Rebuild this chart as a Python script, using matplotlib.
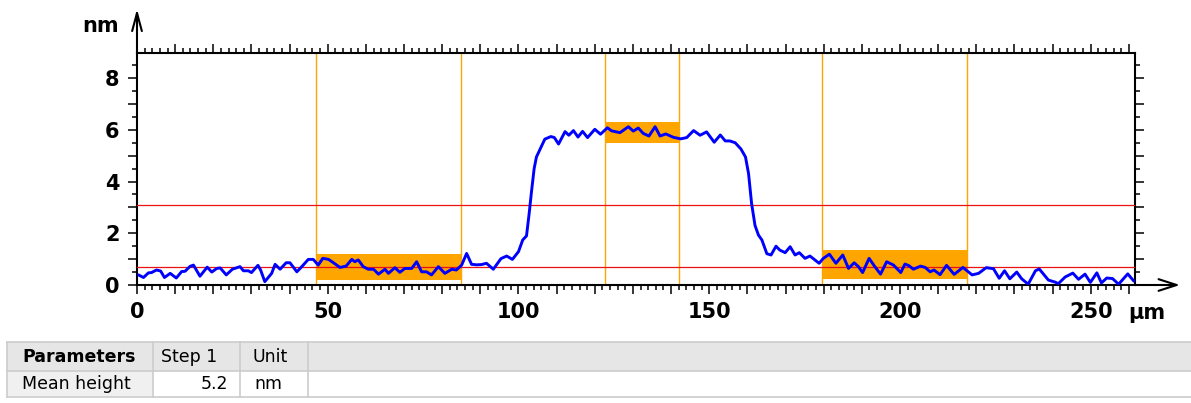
import matplotlib
matplotlib.use('Agg')
import matplotlib.pyplot as plt
from matplotlib.patches import Rectangle
from matplotlib.ticker import MultipleLocator

# ---------------- data ----------------
x_um = [0.4, 1.7, 3.0, 3.8, 5.1, 6.2, 7.2, 8.7, 10.3, 11.7, 12.6, 13.9, 14.8, 16.5, 18.4,
        19.6, 20.9, 21.8, 23.4, 25.0, 27.0, 27.9, 29.2, 30.0, 31.7, 32.4, 33.5, 35.3, 36.2,
        37.5, 39.1, 40.1, 41.9, 43.2, 44.9, 46.2, 47.5, 48.7, 50.2, 51.5, 53.2, 54.8, 56.3,
        57.1, 58.0, 59.3, 60.6, 62.0, 63.3, 65.0, 65.9, 67.6, 68.9, 70.2, 72.0, 73.3, 74.6,
        75.9, 77.2, 79.0, 80.7, 82.5, 83.7, 85.1, 86.4, 87.7, 89.0, 90.3, 91.6, 93.4, 95.4,
        96.9, 98.4, 100.0, 101.1, 102.1, 102.8, 103.4, 104.1, 104.7, 105.6, 106.9, 108.5,
        109.4, 110.5, 112.2, 113.2, 114.4, 115.6, 116.8, 118.1, 120.0, 121.5, 123.3, 124.4,
        126.6, 128.8, 130.1, 131.4, 132.7, 134.2, 135.8, 137.1, 138.6, 140.6, 142.5, 144.1,
        145.9, 147.6, 149.3, 151.3, 152.9, 154.2, 155.4, 156.8, 158.3, 159.5, 160.3, 161.1,
        162.0, 162.9, 163.8, 165.1, 166.2, 167.5, 168.5, 169.9, 171.2, 172.5, 173.6, 175.1,
        176.4, 177.7, 178.8, 179.9, 181.5, 183.2, 185.0, 186.5, 188.0, 189.1, 190.2, 191.9,
        193.4, 194.9, 196.5, 198.3, 200.2, 201.3, 202.3, 203.5, 205.4, 206.6, 207.9, 208.9,
        210.5, 212.2, 214.2, 216.5, 218.9, 220.6, 222.6, 224.5, 226.0, 227.4, 228.8, 230.6,
        231.9, 233.6, 235.5, 236.5, 238.9, 240.7, 241.5, 243.3, 245.3, 246.8, 248.5, 249.9,
        251.6, 252.8, 254.2, 255.7, 257.3, 259.7, 261.3]
height_nm = [0.39, 0.29, 0.47, 0.48, 0.58, 0.54, 0.29, 0.45, 0.27, 0.52, 0.53, 0.72, 0.77, 0.34, 0.69,
             0.50, 0.64, 0.66, 0.39, 0.61, 0.71, 0.55, 0.55, 0.48, 0.76, 0.58, 0.13, 0.45, 0.80,
             0.61, 0.86, 0.86, 0.51, 0.71, 0.99, 0.99, 0.77, 1.03, 0.99, 0.86, 0.68, 0.73, 0.99,
             0.90, 0.97, 0.71, 0.61, 0.61, 0.42, 0.61, 0.45, 0.67, 0.49, 0.64, 0.64, 0.90, 0.51,
             0.51, 0.39, 0.71, 0.45, 0.61, 0.58, 0.77, 1.22, 0.80, 0.78, 0.79, 0.84, 0.61, 1.02,
             1.12, 0.99, 1.29, 1.74, 1.90, 2.77, 3.60, 4.50, 4.95, 5.23, 5.64, 5.74,
             5.70, 5.45, 5.93, 5.79, 5.97, 5.72, 5.94, 5.70, 6.02, 5.83, 6.08, 5.96,
             5.89, 6.12, 5.95, 6.07, 5.86, 5.76, 6.12, 5.76, 5.84, 5.71, 5.65, 5.70,
             5.97, 5.79, 5.92, 5.52, 5.80, 5.57, 5.57, 5.50, 5.26, 4.95, 4.31, 3.15,
             2.30, 1.93, 1.74, 1.21, 1.16, 1.50, 1.35, 1.25, 1.48, 1.16, 1.25, 1.03,
             1.12, 0.97, 0.84, 1.03, 1.19, 0.84, 1.16, 0.64, 0.86, 0.71, 0.48, 1.03,
             0.71, 0.42, 0.90, 0.77, 0.48, 0.81, 0.75, 0.61, 0.73, 0.68, 0.51, 0.58,
             0.40, 0.76, 0.41, 0.68, 0.39, 0.45, 0.67, 0.63, 0.26, 0.55, 0.24, 0.50,
             0.24, 0.03, 0.55, 0.62, 0.19, 0.11, 0.05, 0.31, 0.46, 0.22, 0.42, 0.10,
             0.47, 0.08, 0.27, 0.25, 0.03, 0.43, 0.15]

region_start = [46.9, 122.7, 179.6]
region_end = [84.9, 142.1, 217.6]
region_low = [0.19, 5.50, 0.23]
region_high = [1.20, 6.29, 1.35]
ref_levels = [0.69, 3.09]

x_ticks = [0, 50, 100, 150, 200, 250]
x_tick_labels = ['0', '50', '100', '150', '200', '250']
y_ticks = [0, 2, 4, 6, 8]
y_tick_labels = ['0', '2', '4', '6', '8']
x_unit = 'µm'
y_unit = 'nm'

table_header = ['Parameters', 'Step 1', 'Unit']
table_row = ['Mean height', '5.2', 'nm']

# ---------------- figure ----------------
W, H = 1191, 403
fig = plt.figure(figsize=(W / 100, H / 100), dpi=100)
plt.rcParams['font.family'] = ['DejaVu Sans']

ax = fig.add_axes([137 / W, 1 - 285 / H, 998 / W, 232 / H])
ax.set_xlim(0, 261.6)
ax.set_ylim(0, 8.97)

orange = '#ffa500'
for xs, xe, lo, hi in zip(region_start, region_end, region_low, region_high):
    ax.axvline(xs, color=orange, lw=1.0, zorder=1)
    ax.axvline(xe, color=orange, lw=1.0, zorder=1)
    ax.add_patch(Rectangle((xs, lo), xe - xs, hi - lo, facecolor=orange,
                           edgecolor='none', zorder=2))
for lvl in ref_levels:
    ax.axhline(lvl, color='#ee1111', lw=0.9, zorder=3)

ax.plot(x_um, height_nm, color='#0000ff', lw=2.1, zorder=4,
        solid_joinstyle='round', solid_capstyle='round')

# spines and ticks
for s in ax.spines.values():
    s.set_linewidth(1.5)
    s.set_color('black')
ax.xaxis.set_major_locator(MultipleLocator(10))
ax.xaxis.set_minor_locator(MultipleLocator(2))
ax.yaxis.set_major_locator(MultipleLocator(1))
ax.yaxis.set_minor_locator(MultipleLocator(0.5))
ax.tick_params(which='both', direction='out', top=True, right=True, width=1.1,
               labeltop=False, labelright=False)
ax.tick_params(which='major', length=6.5)
ax.tick_params(which='minor', length=3.5)
ax.tick_params(axis='x', which='major', pad=6)
ax.tick_params(axis='y', which='major', pad=6)

fmt_x = {t: l for t, l in zip(x_ticks, x_tick_labels)}
fmt_y = {t: l for t, l in zip(y_ticks, y_tick_labels)}
ax.xaxis.set_major_formatter(plt.FuncFormatter(
    lambda v, p: fmt_x.get(int(round(v)), '') if abs(v - round(v)) < 1e-6 else ''))
ax.yaxis.set_major_formatter(plt.FuncFormatter(
    lambda v, p: fmt_y.get(int(round(v)), '') if abs(v - round(v)) < 1e-6 else ''))
ax.tick_params(axis='both', which='major', labelsize=15)
for lab in ax.get_xticklabels() + ax.get_yticklabels():
    lab.set_fontweight('bold')

# axis arrows
ax.annotate('', xy=((1180 - 137) / 998, 0), xytext=(1.0, 0), xycoords='axes fraction',
            arrowprops=dict(arrowstyle='->,head_length=1.3,head_width=0.42', lw=1.5,
                            color='black', mutation_scale=10, shrinkA=0, shrinkB=0),
            annotation_clip=False)
ax.annotate('', xy=(0, (285 - 9) / 232), xytext=(0, 1.0), xycoords='axes fraction',
            arrowprops=dict(arrowstyle='->,head_length=1.3,head_width=0.35', lw=1.5,
                            color='black', mutation_scale=10, shrinkA=0, shrinkB=0),
            annotation_clip=False)


def fx(px):
    return px / W


def fy(py):
    return 1 - py / H


fig.text(fx(101), fy(26), y_unit, fontsize=15, fontweight='bold', ha='center', va='center')
fig.text(fx(1128), fy(313), x_unit, fontsize=15, fontweight='bold', ha='left', va='center')

# ---------------- table ----------------
col_edges = [7, 153, 240, 308, 1191]
row_edges = [342, 371, 397]
border = '#cccccc'
header_bg = '#e6e6e6'
firstcol_bg = '#f0f0f0'

fig.patches.append(Rectangle((fx(7), fy(371)), fx(1191) - fx(7), fy(342) - fy(371),
                             transform=fig.transFigure, facecolor=header_bg,
                             edgecolor='none', zorder=0))
fig.patches.append(Rectangle((fx(7), fy(397)), fx(153) - fx(7), fy(371) - fy(397),
                             transform=fig.transFigure, facecolor=firstcol_bg,
                             edgecolor='none', zorder=0))
for yy in row_edges:
    fig.add_artist(plt.Line2D([fx(7), fx(1191)], [fy(yy), fy(yy)], color=border, lw=1.2,
                              transform=fig.transFigure))
for xx in col_edges[:-1]:
    fig.add_artist(plt.Line2D([fx(xx), fx(xx)], [fy(342), fy(397)], color=border, lw=1.2,
                              transform=fig.transFigure))

hy = 357
ry = 384
fs = 12.5
fig.text(fx(22), fy(hy), table_header[0], fontsize=fs, fontweight='bold', ha='left', va='center')
fig.text(fx(161), fy(hy), table_header[1], fontsize=fs, ha='left', va='center')
fig.text(fx(253), fy(hy), table_header[2], fontsize=fs, ha='left', va='center')
fig.text(fx(22), fy(ry), table_row[0], fontsize=fs, ha='left', va='center')
fig.text(fx(228), fy(ry), table_row[1], fontsize=fs, ha='right', va='center')
fig.text(fx(254), fy(ry), table_row[2], fontsize=fs, ha='left', va='center')

fig.savefig('out.png', dpi=100)
